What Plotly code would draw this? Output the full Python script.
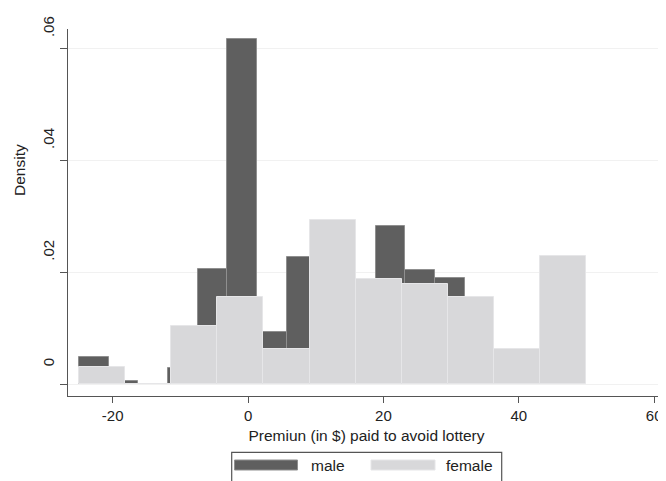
import plotly.graph_objects as go

# ---- data ----
male_start = -25.0
male_width = 57.0 / 13          # 13 bins from -25 to 32
male_density = [0.00494, 0.00054, 0.0, 0.0029, 0.02057, 0.0617, 0.0093,
                0.02272, 0.0045, 0.0030, 0.02827, 0.0205, 0.01907]

female_start = -25.0
female_width = 75.0 / 11        # 11 bins from -25 to 50
female_density = [0.0031, 0.0, 0.01043, 0.01562, 0.00632, 0.0294, 0.01884,
                  0.01789, 0.01562, 0.00632, 0.0229]

x_ticks = [-20, 0, 20, 40, 60]
x_tick_labels = ["-20", "0", "20", "40", "60"]
y_ticks = [0, 0.02, 0.04, 0.06]
y_tick_labels = ["0", ".02", ".04", ".06"]

series_names = ["male", "female"]
x_title = "Premiun (in $) paid to avoid lottery"
y_title = "Density"

# ---- styling ----
MALE_FILL = "#5f5f5f"
MALE_LINE = "#8f8f8f"
FEM_FILL = "#d8d8da"
FEM_LINE = "#e6e6e8"
FONT = "Liberation Sans, Arial, sans-serif"

# page has an 8px body margin, so the figure is shrunk by 8px
OFF = 8
W, H = 666 - OFF, 481 - OFF
ML, MR, MT, MB = 68 - OFF, 1, 29 - OFF, 85
PW, PH = W - ML - MR, H - MT - MB


def px(xpix):
    # page pixel -> paper coordinate
    return (xpix - 68) / PW


def py(ypix):
    return (396 - ypix) / PH


def centers(start, width, n):
    return [start + width * (i + 0.5) for i in range(n)]


fig = go.Figure()
fig.add_trace(go.Bar(
    x=centers(male_start, male_width, len(male_density)),
    y=male_density, width=male_width, name=series_names[0],
    marker=dict(color=MALE_FILL, line=dict(color=MALE_LINE, width=1)),
    showlegend=False,
))
fig.add_trace(go.Bar(
    x=centers(female_start, female_width, len(female_density)),
    y=female_density, width=female_width, name=series_names[1],
    marker=dict(color=FEM_FILL, line=dict(color=FEM_LINE, width=1)),
    showlegend=False,
))

fig.update_layout(
    width=W, height=H,
    margin=dict(l=ML, r=MR, t=MT, b=MB, autoexpand=False),
    paper_bgcolor="white", plot_bgcolor="white",
    barmode="overlay", bargap=0,
    font=dict(family=FONT, size=15, color="#222222"),
)

fig.update_xaxes(
    range=[-26.6, 61.6], tickvals=x_ticks, ticktext=x_tick_labels,
    showgrid=False, zeroline=False,
    showline=True, linecolor="#555555", linewidth=1.3,
    ticks="outside", ticklen=6, tickcolor="#555555", tickwidth=1.3,
    tickfont=dict(size=15),
    title=dict(text=x_title, font=dict(size=15.5), standoff=6),
)
fig.update_yaxes(
    range=[-0.0021, 0.06356], tickvals=y_ticks, ticktext=y_tick_labels,
    tickangle=-90, ticklabelshift=-20,
    showgrid=True, gridcolor="#f1f1f1", gridwidth=1, zeroline=False,
    showline=True, linecolor="#555555", linewidth=1.3,
    ticks="outside", ticklen=7, tickcolor="#555555", tickwidth=1.3,
    tickfont=dict(size=15),
)

# ---- legend (drawn as a Stata-style box below the plot) ----
shapes = [
    dict(type="rect", xref="paper", yref="paper",
         x0=px(231.7), x1=px(501.7), y0=py(492), y1=py(452.3),
         line=dict(color="#555555", width=1.2), fillcolor="white", layer="above"),
    dict(type="rect", xref="paper", yref="paper",
         x0=px(234.5), x1=px(297.5), y0=py(470), y1=py(460),
         line=dict(color=MALE_LINE, width=1), fillcolor=MALE_FILL, layer="above"),
    dict(type="rect", xref="paper", yref="paper",
         x0=px(371), x1=px(435), y0=py(470), y1=py(460),
         line=dict(color=FEM_LINE, width=1), fillcolor=FEM_FILL, layer="above"),
]
annotations = [
    dict(text=y_title, xref="paper", yref="paper", x=px(19), y=py(170),
         xanchor="center", yanchor="middle", textangle=-90, showarrow=False,
         font=dict(size=15.5)),
    dict(text=series_names[0], xref="paper", yref="paper", x=px(309), y=py(465),
         xanchor="left", yanchor="middle", showarrow=False, font=dict(size=15.5)),
    dict(text=series_names[1], xref="paper", yref="paper", x=px(444), y=py(465),
         xanchor="left", yanchor="middle", showarrow=False, font=dict(size=15.5)),
]
fig.update_layout(shapes=shapes, annotations=annotations)

fig.write_html("out.html")
